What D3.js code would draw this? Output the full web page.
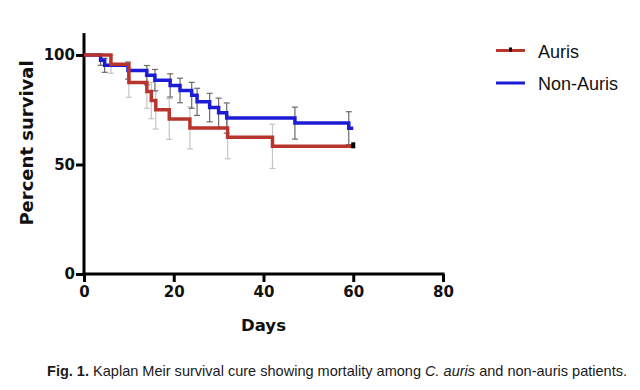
<!DOCTYPE html>
<html>
<head>
<meta charset="utf-8">
<script src="https://cdn.jsdelivr.net/npm/d3@7"></script>
<style>
  body { margin: 0; background: #fff; }
  svg { display: block; }
</style>
</head>
<body>
<svg id="chart"></svg>
<script>
// Auris curve (days, percent survival, error half-width)
const aurisDays = [0, 6, 10, 14, 15, 16, 19, 23.6, 32, 42, 60];
const aurisSurv = [100, 95.8, 87.5, 83.3, 79.2, 75, 70.8, 66.7, 62.5, 58.3, 58.3];
const aurisErr  = [0, 4.1, 6.8, 7.6, 8.3, 8.8, 9.3, 9.6, 9.9, 10.1, 0];

// Non-Auris curve
const nonDays = [0, 3.7, 4.6, 9.8, 14, 15.8, 19.2, 21.4, 24, 25.2, 28, 30, 31.8, 47, 59, 60];
const nonSurv = [100, 97.6, 95.3, 92.9, 90.8, 88.5, 86.1, 83.8, 81.6, 78.6, 76, 73.6, 71.2, 68.9, 66.6, 66.6];
const nonErr  = [0, 2.3, 3.2, 3.9, 4.4, 4.9, 5.3, 5.6, 5.9, 6.2, 6.5, 6.7, 6.9, 7.3, 7.5, 0];

const xTicks = [0, 20, 40, 60, 80];
const yTicks = [0, 50, 100];
const seriesNames = ["Auris", "Non-Auris"];

const W = 640, H = 390;
const redCol = "#b8352d", blueCol = "#1c1cd6";
const axisFont = "'DejaVu Sans', sans-serif";

const svg = d3.select("#chart").attr("width", W).attr("height", H);

const x = d3.scaleLinear().domain([0, 80]).range([84, 443]);
const y = d3.scaleLinear().domain([0, 100]).range([274, 55]);

// axis lines
svg.append("line")
    .attr("x1", x(0)).attr("x2", x(0))
    .attr("y1", y(110)).attr("y2", y(0))
    .attr("stroke", "#000").attr("stroke-width", 3);
svg.append("line")
    .attr("x1", x(0) - 1.5).attr("x2", x(80) + 1.5)
    .attr("y1", y(0)).attr("y2", y(0))
    .attr("stroke", "#000").attr("stroke-width", 3);

// x axis ticks
const gx = svg.append("g")
    .attr("transform", "translate(0," + y(0) + ")")
    .call(d3.axisBottom(x).tickValues(xTicks).tickSize(8).tickPadding(4));
gx.select(".domain").remove();
gx.selectAll(".tick line").attr("stroke", "#000").attr("stroke-width", 3);
gx.selectAll(".tick text")
    .attr("font-family", axisFont).attr("font-weight", "bold")
    .attr("font-size", 15).attr("fill", "#111");

// y axis ticks
const gy = svg.append("g")
    .attr("transform", "translate(" + x(0) + ",0)")
    .call(d3.axisLeft(y).tickValues(yTicks).tickSize(8).tickPadding(1));
gy.select(".domain").remove();
gy.selectAll(".tick line").attr("stroke", "#000").attr("stroke-width", 3);
gy.selectAll(".tick text")
    .attr("font-family", axisFont).attr("font-weight", "bold")
    .attr("font-size", 15).attr("fill", "#111");

// axis titles
svg.append("text")
    .attr("x", x(40)).attr("y", 331)
    .attr("text-anchor", "middle")
    .attr("font-family", axisFont).attr("font-weight", "bold")
    .attr("font-size", 16.5).attr("fill", "#111")
    .text("Days");

svg.append("text")
    .attr("transform", "translate(33,143)rotate(-90)")
    .attr("text-anchor", "middle")
    .attr("font-family", axisFont).attr("font-weight", "bold")
    .attr("font-size", 18).attr("fill", "#111")
    .text("Percent survival");

// error bars
function errorBars(days, surv, err, colour) {
    const g = svg.append("g").attr("stroke", colour).attr("stroke-width", 1.2).attr("fill", "none");
    days.forEach((d, i) => {
        if (!err[i]) return;
        const cx = x(d), lo = y(surv[i] - err[i]), hi = y(surv[i] + err[i]);
        g.append("line").attr("x1", cx).attr("x2", cx).attr("y1", lo).attr("y2", hi);
        g.append("line").attr("x1", cx - 3).attr("x2", cx + 3).attr("y1", lo).attr("y2", lo);
        g.append("line").attr("x1", cx - 3).attr("x2", cx + 3).attr("y1", hi).attr("y2", hi);
    });
}
errorBars(aurisDays, aurisSurv, aurisErr, "#c4c4c4");
errorBars(nonDays, nonSurv, nonErr, "#6a6a6a");

// survival steps
const step = d3.line()
    .x(d => x(d[0]))
    .y(d => y(d[1]))
    .curve(d3.curveStepAfter);

svg.append("path")
    .datum(d3.zip(nonDays, nonSurv))
    .attr("d", step)
    .attr("fill", "none").attr("stroke", blueCol).attr("stroke-width", 3.5);

svg.append("path")
    .datum(d3.zip(aurisDays, aurisSurv))
    .attr("d", step)
    .attr("fill", "none").attr("stroke", redCol).attr("stroke-width", 3.5);

// censor mark at end of Auris curve
const lastA = aurisDays.length - 1;
svg.append("rect")
    .attr("x", x(aurisDays[lastA]) - 2).attr("y", y(aurisSurv[lastA]) - 4)
    .attr("width", 4).attr("height", 6)
    .attr("fill", "#000");

// legend
const legend = svg.append("g");
const legendCols = [redCol, blueCol];
seriesNames.forEach((name, i) => {
    const ly = 50.5 + i * 32.5;
    legend.append("line")
        .attr("x1", 496).attr("x2", 525).attr("y1", ly).attr("y2", ly)
        .attr("stroke", legendCols[i]).attr("stroke-width", 3);
    legend.append("text")
        .attr("x", 538).attr("y", ly + 7)
        .attr("font-family", "'Liberation Sans', Arial, sans-serif")
        .attr("font-size", 18).attr("fill", "#111")
        .text(name);
});
legend.append("rect")
    .attr("x", 509).attr("y", 47.5).attr("width", 3).attr("height", 4)
    .attr("fill", "#000");

// caption
const cap = svg.append("text")
    .attr("x", 47).attr("y", 376)
    .attr("font-family", "'Liberation Sans Narrow', 'Liberation Sans', sans-serif")
    .attr("font-size", 14.5).attr("fill", "#1a1a1a")
    .attr("textLength", 580).attr("lengthAdjust", "spacingAndGlyphs");
cap.append("tspan").attr("font-weight", "bold").text("Fig. 1.");
cap.append("tspan").text(" Kaplan Meir survival cure showing mortality among ");
cap.append("tspan").attr("font-style", "italic").text("C. auris");
cap.append("tspan").text(" and non-auris patients.");
</script>
</body>
</html>
